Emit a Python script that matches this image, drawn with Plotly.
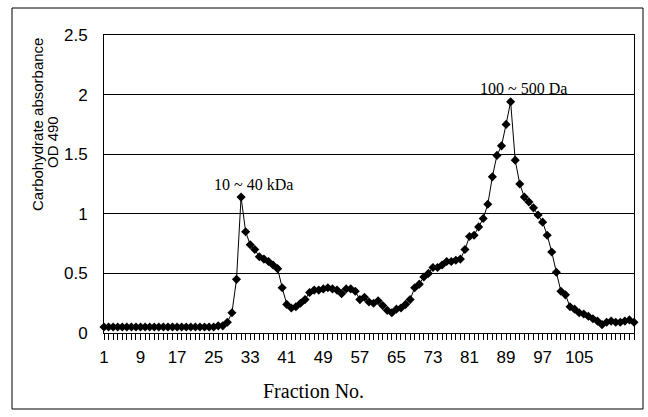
import plotly.graph_objects as go

# Fraction numbers and carbohydrate absorbance (OD 490)
fractions = list(range(1, 118))
od490 = [
    0.05, 0.05, 0.05, 0.05, 0.05, 0.05, 0.05, 0.05, 0.05, 0.05,
    0.05, 0.05, 0.05, 0.05, 0.05, 0.05, 0.05, 0.05, 0.05, 0.05,
    0.05, 0.05, 0.05, 0.05, 0.05, 0.06, 0.06, 0.09, 0.17, 0.45,
    1.14, 0.85, 0.74, 0.70, 0.64, 0.62, 0.60, 0.57, 0.54, 0.38,
    0.24, 0.21, 0.22, 0.25, 0.28, 0.34, 0.36, 0.36, 0.37, 0.38,
    0.37, 0.36, 0.33, 0.37, 0.37, 0.35, 0.28, 0.30, 0.26, 0.25,
    0.27, 0.23, 0.19, 0.17, 0.20, 0.21, 0.24, 0.28, 0.38, 0.41,
    0.47, 0.50, 0.55, 0.55, 0.57, 0.60, 0.60, 0.61, 0.62, 0.70,
    0.81, 0.82, 0.89, 0.96, 1.08, 1.31, 1.49, 1.57, 1.75, 1.94,
    1.45, 1.25, 1.14, 1.10, 1.05, 0.99, 0.93, 0.82, 0.68, 0.51,
    0.35, 0.32, 0.22, 0.20, 0.17, 0.16, 0.14, 0.12, 0.10, 0.07,
    0.09, 0.10, 0.09, 0.09, 0.10, 0.11, 0.09,
]
x_tick_values = [1, 9, 17, 25, 33, 41, 49, 57, 65, 73, 81, 89, 97, 105]
y_tick_values = [0, 0.5, 1, 1.5, 2, 2.5]
peak_labels = ["10 ~ 40 kDa", "100 ~ 500 Da"]
peak_label_x = [33.8, 92.8]
peak_label_y = [1.25, 2.055]

fig = go.Figure()
fig.add_trace(go.Scatter(
    x=fractions, y=od490, mode="lines+markers",
    line=dict(color="black", width=1),
    marker=dict(symbol="diamond", size=7, color="black"),
    cliponaxis=False, showlegend=False,
))

for txt, lx, ly in zip(peak_labels, peak_label_x, peak_label_y):
    fig.add_annotation(x=lx, y=ly, xref="x", yref="y", text=txt, showarrow=False,
                       xanchor="center", yanchor="middle",
                       font=dict(family="Liberation Serif", size=16, color="black"))

# axis titles
fig.add_annotation(x=(313 - 104) / 530, y=(333 - 391) / 298, xref="paper", yref="paper",
                   text="Fraction No.", showarrow=False, xanchor="center", yanchor="middle",
                   font=dict(family="Liberation Serif", size=20, color="black"))
fig.add_annotation(x=(37 - 104) / 530, y=(333 - 125) / 298, xref="paper", yref="paper",
                   text="Carbohydrate absorbance", showarrow=False, textangle=-90,
                   xanchor="center", yanchor="middle",
                   font=dict(family="Liberation Sans", size=15, color="black"))
fig.add_annotation(x=(52 - 104) / 530, y=(333 - 142) / 298, xref="paper", yref="paper",
                   text="OD 490", showarrow=False, textangle=-90,
                   xanchor="center", yanchor="middle",
                   font=dict(family="Liberation Sans", size=15, color="black"))

# outer chart frame
fig.add_shape(type="rect", xref="paper", yref="paper",
              x0=(12 - 104) / 530, x1=(643 - 104) / 530,
              y0=(333 - 409) / 298, y1=(333 - 8) / 298,
              line=dict(color="black", width=1), fillcolor="rgba(0,0,0,0)")

fig.update_layout(
    width=648, height=417,
    margin=dict(l=104, r=14, t=35, b=84),
    paper_bgcolor="white", plot_bgcolor="white",
    xaxis=dict(
        range=[1, 117], tickmode="array", tickvals=x_tick_values,
        ticks="outside", ticklen=6, tickcolor="black",
        minor=dict(ticks="outside", ticklen=6, tickmode="linear", tick0=1, dtick=1,
                   tickcolor="black", showgrid=False),
        showgrid=False, zeroline=False, showline=True, linecolor="black", mirror=True,
        tickfont=dict(family="Liberation Sans", size=17, color="black"),
        ticklabelstandoff=3, automargin=False,
    ),
    yaxis=dict(
        range=[0, 2.5], tickmode="array", tickvals=y_tick_values,
        showgrid=True, gridcolor="black", gridwidth=1, zeroline=False,
        showline=True, linecolor="black", mirror=True, ticks="",
        tickfont=dict(family="Liberation Sans", size=17, color="black"),
        ticklabelstandoff=12, automargin=False,
    ),
)

fig.write_html("out.html", config={"displayModeBar": False},
               post_script="document.body.style.margin='0';document.body.style.overflow='hidden';")
